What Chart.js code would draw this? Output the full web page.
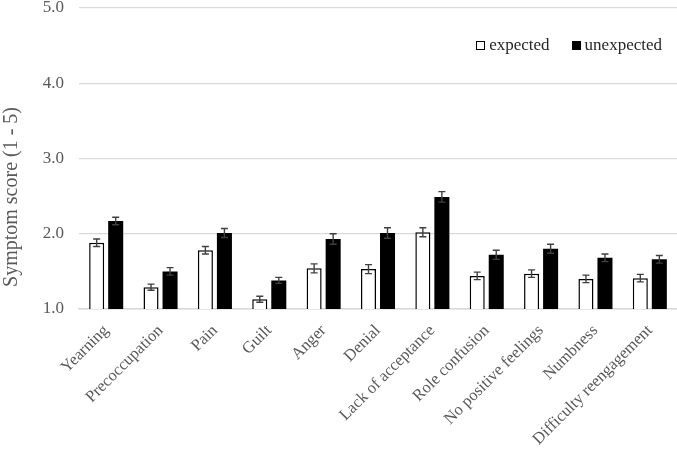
<!DOCTYPE html>
<html>
<head>
<meta charset="utf-8">
<script src="https://cdn.jsdelivr.net/npm/chart.js@4/dist/chart.umd.min.js"></script>
<style>
  html, body { margin: 0; padding: 0; background: #fff; }
  #wrap { position: relative; width: 677px; height: 450px; }
  #legend {
    position: absolute; top: 35px; right: 15px;
    font-family: 'Liberation Serif', 'Times New Roman', serif;
    font-size: 17px; color: #262626;
    display: flex; gap: 22px; align-items: center;
  }
  #legend span.item { display: flex; align-items: center; }
  #legend span.box { display: inline-block; width: 7px; height: 7px; margin-right: 4px; }
</style>
</head>
<body>
<div id="wrap"><canvas id="symptomChart"></canvas><div id="legend"></div></div>
<script>
const categories = ['Yearning', 'Precoccupation', 'Pain', 'Guilt', 'Anger', 'Denial',
  'Lack of acceptance', 'Role confusion', 'No positive feelings', 'Numbness', 'Difficulty reengagement'];

const expected = [1.88, 1.29, 1.78, 1.13, 1.54, 1.53, 2.02, 1.44, 1.47, 1.40, 1.41];
const expected_err = [0.05, 0.04, 0.05, 0.04, 0.06, 0.06, 0.06, 0.05, 0.05, 0.05, 0.05];

const unexpected = [2.17, 1.50, 2.01, 1.38, 1.93, 2.01, 2.49, 1.72, 1.80, 1.68, 1.66];
const unexpected_err = [0.05, 0.05, 0.06, 0.04, 0.07, 0.07, 0.07, 0.06, 0.06, 0.05, 0.05];

const y_ticks = [1, 2, 3, 4, 5];
const y_title = 'Symptom score (1 - 5)';

const serif = "'Liberation Serif', 'Times New Roman', serif";

// draws the error whiskers using the chart's own scales
const errorBars = {
  id: 'errorBars',
  afterDatasetsDraw(chart) {
    const ctx = chart.ctx;
    const yScale = chart.scales.y;
    chart.data.datasets.forEach((ds, i) => {
      const meta = chart.getDatasetMeta(i);
      meta.data.forEach((bar, j) => {
        const v = ds.data[j];
        const e = ds.errors[j];
        const top = yScale.getPixelForValue(v + e);
        const bot = yScale.getPixelForValue(v - e);
        const x = bar.x;
        ctx.save();
        ctx.strokeStyle = '#404040';
        ctx.lineWidth = 1.4;
        ctx.beginPath();
        ctx.moveTo(x, top); ctx.lineTo(x, bot);
        ctx.moveTo(x - 3.5, top); ctx.lineTo(x + 3.5, top);
        ctx.moveTo(x - 3.5, bot); ctx.lineTo(x + 3.5, bot);
        ctx.stroke();
        ctx.restore();
      });
    });
  }
};

// y axis title, centred a bit lower than the plot like the original
const yTitle = {
  id: 'yTitle',
  afterDraw(chart) {
    const ctx = chart.ctx;
    ctx.save();
    ctx.translate(12, 197);
    ctx.rotate(-Math.PI / 2);
    ctx.font = '20px ' + serif;
    ctx.fillStyle = '#595959';
    ctx.textAlign = 'center';
    ctx.textBaseline = 'middle';
    ctx.fillText(y_title, 0, 0);
    ctx.restore();
  }
};

let symptomChart = new Chart('symptomChart', {
  type: 'bar',
  data: {
    labels: categories,
    datasets: [{
      label: 'expected',
      data: expected,
      errors: expected_err,
      backgroundColor: '#ffffff',
      borderColor: '#000000',
      borderWidth: 1.5,
      borderSkipped: 'bottom',
      categoryPercentage: 0.70,
      barPercentage: 0.79
    }, {
      label: 'unexpected',
      data: unexpected,
      errors: unexpected_err,
      backgroundColor: '#000000',
      borderColor: '#000000',
      borderWidth: 0,
      categoryPercentage: 0.70,
      barPercentage: 0.79
    }]
  },
  options: {
    responsive: true,
    maintainAspectRatio: false,
    animation: false,
    layout: { padding: 0 },
    plugins: {
      legend: { display: false },
      tooltip: { enabled: false }
    },
    scales: {
      x: {
        afterFit(scale) {
          scale.height = 141;
          scale.paddingTop = 0;
          scale.paddingBottom = 0;
        },
        grid: { display: false, drawTicks: false },
        border: { display: true, color: '#d9d9d9', width: 1.5 },
        ticks: {
          autoSkip: false,
          maxRotation: 45,
          minRotation: 45,
          padding: 12,
          font: { family: serif, size: 16.5 },
          color: '#595959'
        }
      },
      y: {
        min: 1,
        max: 5,
        afterFit(scale) {
          scale.width = 79;
          scale.paddingTop = 8;
          scale.paddingBottom = 0;
        },
        afterBuildTicks(scale) {
          scale.ticks = y_ticks.map(v => ({ value: v }));
        },
        grid: { color: '#d9d9d9', lineWidth: 1.2, drawTicks: false },
        border: { display: false },
        ticks: {
          padding: 15,
          font: { family: serif, size: 17 },
          color: '#595959',
          callback: v => v.toFixed(1)
        }
      }
    }
  },
  plugins: [errorBars, yTitle]
});

// legend built from the chart's datasets
const legendEl = document.getElementById('legend');
symptomChart.data.datasets.forEach(ds => {
  const item = document.createElement('span');
  item.className = 'item';
  const box = document.createElement('span');
  box.className = 'box';
  box.style.background = ds.backgroundColor;
  box.style.border = '1.5px solid ' + ds.borderColor;
  item.appendChild(box);
  item.appendChild(document.createTextNode(ds.label));
  legendEl.appendChild(item);
});
</script>
</body>
</html>
